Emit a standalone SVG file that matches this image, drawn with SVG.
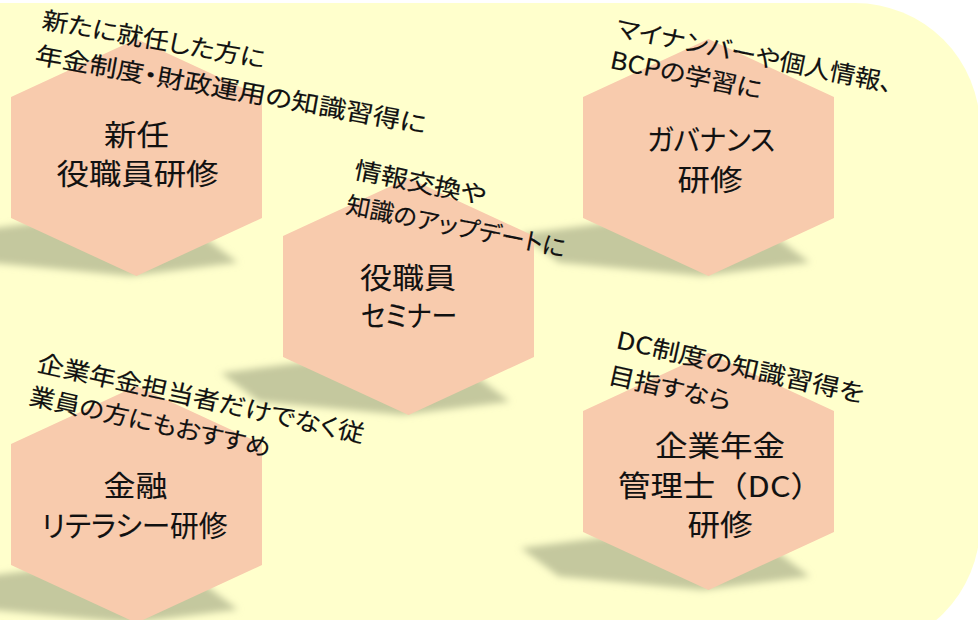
<svg xmlns="http://www.w3.org/2000/svg" xmlns:xlink="http://www.w3.org/1999/xlink" width="978" height="620" viewBox="0 0 978 620">
<style>
  .hex { fill: #F8CBAD; }
  .shadow { fill: #C4C89E; filter: url(#blur); }
  .lbl { font-family: "Noto Sans CJK JP", "Noto Sans", sans-serif; font-size: 29px; fill: #111; stroke: #111; stroke-width: 0.1; text-anchor: middle; font-feature-settings: "palt" 1; }
  .lbls { font-family: "Noto Sans CJK JP", "Noto Sans", sans-serif; font-size: 29px; fill: #111; stroke: #111; stroke-width: 0.1; }
  .note { font-family: "Noto Sans CJK JP", "Noto Sans", sans-serif; font-size: 24px; fill: #111; stroke: #111; stroke-width: 0.15; font-feature-settings: "palt" 1; }
</style>
<defs>
  <filter id="blur" x="-20%" y="-50%" width="140%" height="200%">
    <feGaussianBlur stdDeviation="3.5"/>
  </filter>
  <polygon id="hexshape" points="125.5,-237 251,-179 251,-58 125.5,0 0,-58 0,-179"/>
  <polygon id="shadowshape" points="45.1,-55.7 188.8,-42.1 226.8,-13.6 119.5,0 -24.2,-13.6 -62.2,-42.1"/>
</defs>

<path id="background" d="M -20 3 H 855 A 125 125 0 0 1 980 128 V 525 A 125 125 0 0 1 855 650 H -20 Z" fill="#FFFFCC"/>

<g id="shadows">
  <use xlink:href="#shadowshape" class="shadow" transform="translate(11,276)"/>
  <use xlink:href="#shadowshape" class="shadow" transform="translate(583,276)"/>
  <use xlink:href="#shadowshape" class="shadow" transform="translate(283,415)"/>
  <use xlink:href="#shadowshape" class="shadow" transform="translate(11,623)"/>
  <use xlink:href="#shadowshape" class="shadow" transform="translate(583,590)"/>
</g>

<g id="node-shinnin">
  <use xlink:href="#hexshape" class="hex" transform="translate(11,276)"/>
  <text class="lbl" x="136.5" y="146" textLength="65" lengthAdjust="spacingAndGlyphs">新任</text>
  <text class="lbl" x="137.5" y="185" textLength="162" lengthAdjust="spacingAndGlyphs">役職員研修</text>
  <text class="note" transform="translate(41,28) rotate(10.2)" textLength="226" lengthAdjust="spacingAndGlyphs">新たに就任した方に</text>
  <text class="note" transform="translate(34,63) rotate(10.2)" textLength="397" lengthAdjust="spacingAndGlyphs">年金制度・財政運用の知識習得に</text>
</g>

<g id="node-governance">
  <use xlink:href="#hexshape" class="hex" transform="translate(583,276)"/>
  <text class="lbl" x="711" y="151" textLength="128" lengthAdjust="spacingAndGlyphs">ガバナンス</text>
  <text class="lbl" x="710" y="191" textLength="65" lengthAdjust="spacingAndGlyphs">研修</text>
  <text class="note" transform="translate(615,36) rotate(11.5)" textLength="282" lengthAdjust="spacingAndGlyphs">マイナンバーや個人情報、</text>
  <text class="note" transform="translate(609,68) rotate(11.5)" textLength="154" lengthAdjust="spacingAndGlyphs">BCPの学習に</text>
</g>

<g id="node-seminar">
  <use xlink:href="#hexshape" class="hex" transform="translate(283,415)"/>
  <text class="lbl" x="408" y="289" textLength="96" lengthAdjust="spacingAndGlyphs">役職員</text>
  <text class="lbl" x="409" y="327" textLength="96" lengthAdjust="spacingAndGlyphs">セミナー</text>
  <text class="note" transform="translate(353,178) rotate(11.4)" textLength="134" lengthAdjust="spacingAndGlyphs">情報交換や</text>
  <text class="note" transform="translate(345,213) rotate(11.4)" textLength="223" lengthAdjust="spacingAndGlyphs">知識のアップデートに</text>
</g>

<g id="node-literacy">
  <use xlink:href="#hexshape" class="hex" transform="translate(11,623)"/>
  <text class="lbl" x="135.5" y="497" textLength="64" lengthAdjust="spacingAndGlyphs">金融</text>
  <text class="lbl" x="134.5" y="537" textLength="186" lengthAdjust="spacingAndGlyphs">リテラシー研修</text>
  <text class="note" transform="translate(36,371) rotate(12.4)" textLength="334" lengthAdjust="spacingAndGlyphs">企業年金担当者だけでなく従</text>
  <text class="note" transform="translate(28,404) rotate(12.4)" textLength="246" lengthAdjust="spacingAndGlyphs">業員の方にもおすすめ</text>
</g>

<g id="node-dc">
  <use xlink:href="#hexshape" class="hex" transform="translate(583,590)"/>
  <text class="lbl" x="720" y="457" textLength="130" lengthAdjust="spacingAndGlyphs">企業年金</text>
  <text class="lbls" x="618" y="497" textLength="205" lengthAdjust="spacingAndGlyphs">管理士（DC）</text>
  <text class="lbl" x="720" y="536" textLength="65" lengthAdjust="spacingAndGlyphs">研修</text>
  <text class="note" transform="translate(615,348) rotate(12.5)" textLength="253" lengthAdjust="spacingAndGlyphs">DC制度の知識習得を</text>
  <text class="note" transform="translate(607,383) rotate(12.5)" textLength="125" lengthAdjust="spacingAndGlyphs">目指すなら</text>
</g>
</svg>
